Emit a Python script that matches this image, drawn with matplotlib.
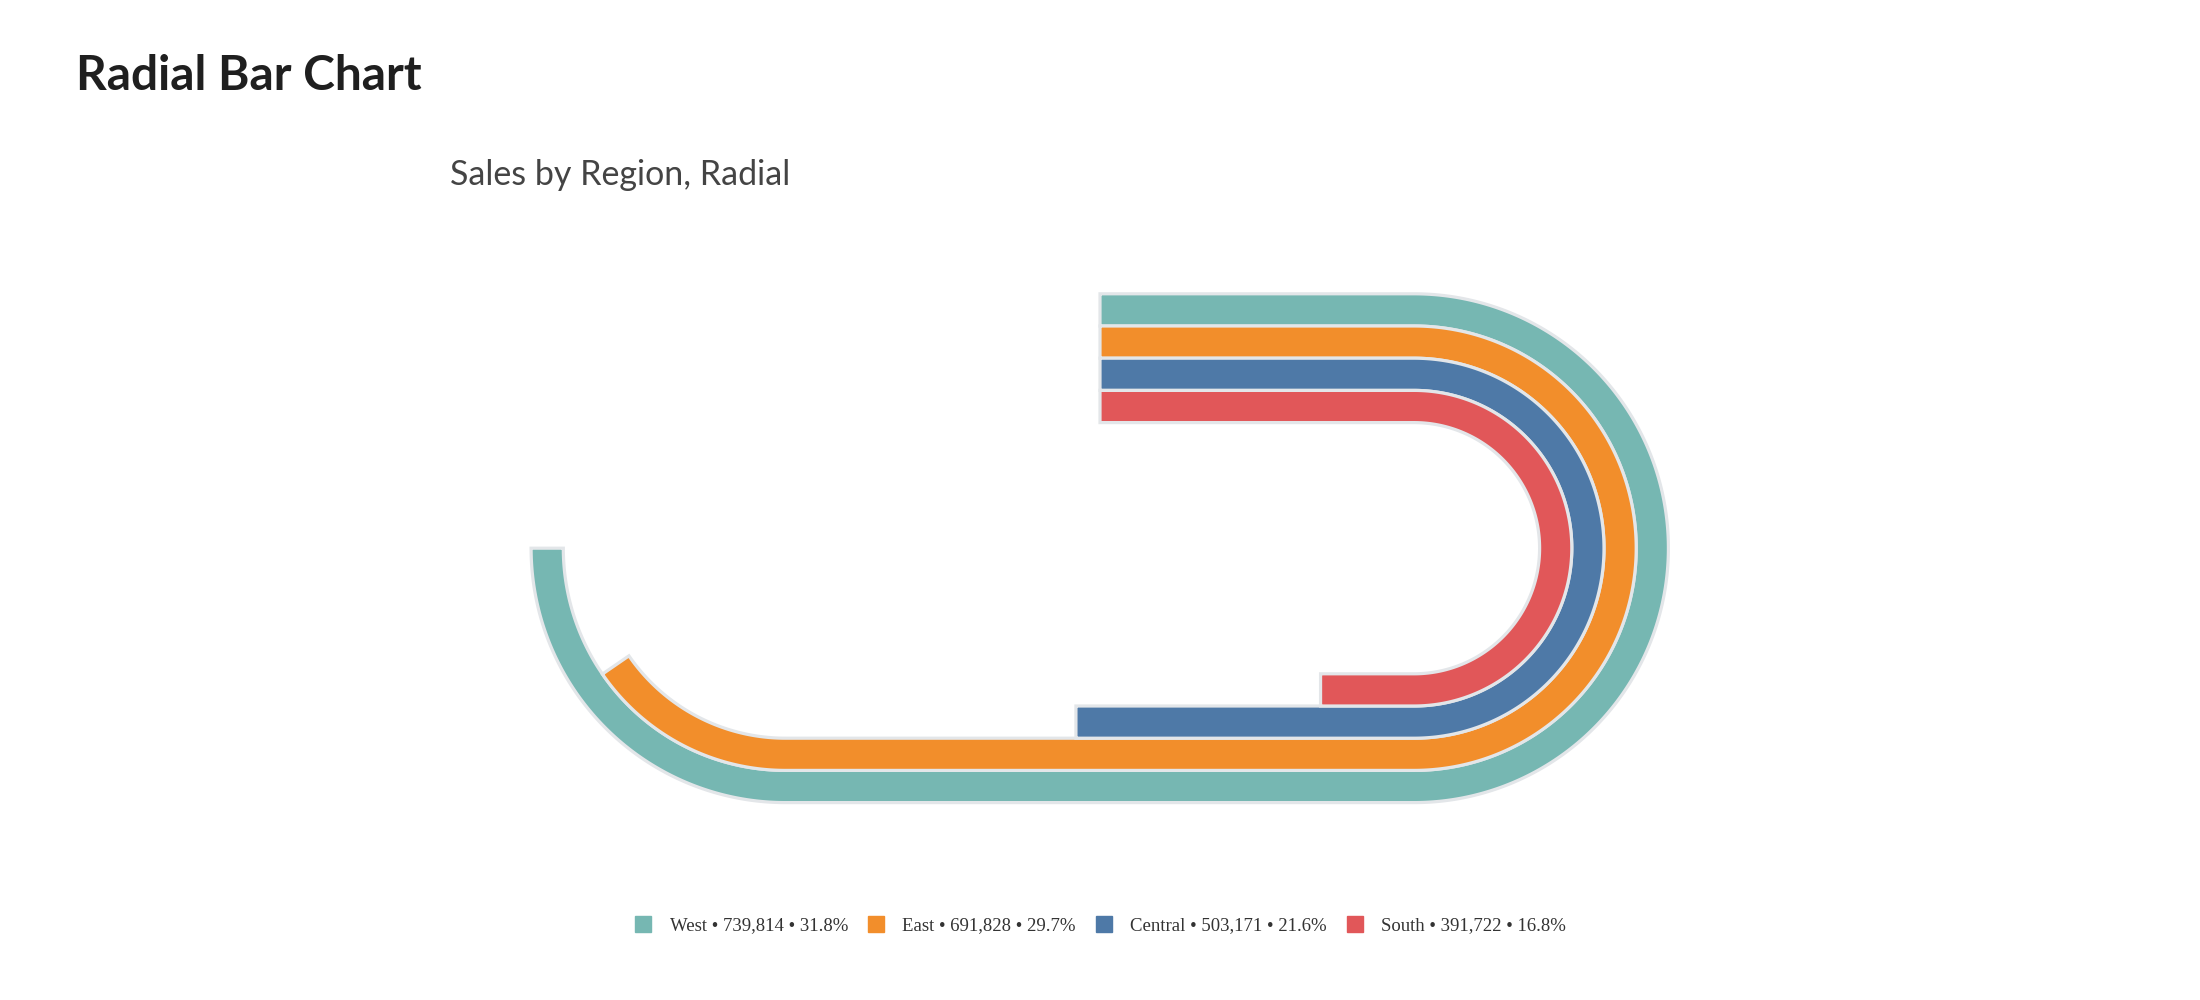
import matplotlib
matplotlib.use("Agg")
import matplotlib.pyplot as plt
import numpy as np
from matplotlib.patches import Polygon
from matplotlib.lines import Line2D

# Datos
regions = ["West", "East", "Central", "South"]
sales = [739814, 691828, 503171, 391722]
colors = ["#76B7B2", "#F28E2B", "#4E79A7", "#E15759"]

total = sum(sales)
shares = [100 * v / total for v in sales]
fracs = [v / max(sales) for v in sales]

# Geometria de la pista (en pixeles del lienzo)
cy = 548.2          # centro vertical
cx_r = 1414.0       # centro del semicirculo derecho
cx_l = 785.5        # centro del cuarto de circulo izquierdo
x_start = 1100.0    # inicio de las barras arriba
r_out = 254.4       # borde exterior de la primera banda
pitch = 32.2        # ancho de cada banda


def locate(s, rm):
    l1 = cx_r - x_start
    if s <= l1:
        return "top", x_start + s
    s -= l1
    a = np.pi * rm
    if s <= a:
        return "right", -np.pi / 2 + s / rm
    s -= a
    l2 = cx_r - cx_l
    if s <= l2:
        return "bottom", cx_r - s
    s -= l2
    return "left", np.pi / 2 + s / rm


def point(seg, p, r):
    if seg == "top":
        return p, cy - r
    if seg == "right":
        return cx_r + r * np.cos(p), cy + r * np.sin(p)
    if seg == "bottom":
        return p, cy + r
    return cx_l + r * np.cos(p), cy + r * np.sin(p)


def track_length(rm):
    return (cx_r - x_start) + np.pi * rm + (cx_r - cx_l) + np.pi * rm / 2


fig = plt.figure(figsize=(22, 10), dpi=100)
ax = fig.add_axes([0, 0, 1, 1])
ax.set_xlim(0, 2200)
ax.set_ylim(1000, 0)
ax.axis("off")

h = pitch / 2
for i, (f, c) in enumerate(zip(fracs, colors)):
    rm = r_out - h - i * pitch
    end = f * track_length(rm)
    outer, inner = [], []
    for s in np.linspace(0, end, 1500):
        seg, p = locate(s, rm)
        outer.append(point(seg, p, rm + h))
        inner.append(point(seg, p, rm - h))
    pts = outer + inner[::-1]
    ax.add_patch(Polygon(pts, closed=True, facecolor=c, edgecolor="#e3e6e9",
                         linewidth=2.3, joinstyle="miter", zorder=2 + i))

# Titulos
fig.text(76 / 2200, 1 - 90 / 1000, "Radial Bar Chart", fontsize=34.5,
         fontweight="bold", family="Lato", color="#1f1f1f", va="baseline")
fig.text(450 / 2200, 1 - 185 / 1000, "Sales by Region, Radial", fontsize=24.5,
         fontweight="normal", family="Lato", color="#444444", va="baseline")

# Leyenda
handles = [Line2D([], [], marker="s", linestyle="none", markersize=11,
                  markerfacecolor=c, markeredgecolor=c) for c in colors]
labels = [f"{r} \u2022 {v:,} \u2022 {s:.1f}%" for r, v, s in zip(regions, sales, shares)]
fig.legend(handles, labels, loc="center", bbox_to_anchor=(1100 / 2200, 1 - 926 / 1000),
           ncol=4, frameon=False, prop={"family": "Liberation Serif", "size": 13.5},
           handletextpad=0.9, columnspacing=1.0, handlelength=1.0, labelcolor="#333333")

plt.savefig("out.png", dpi=100)
